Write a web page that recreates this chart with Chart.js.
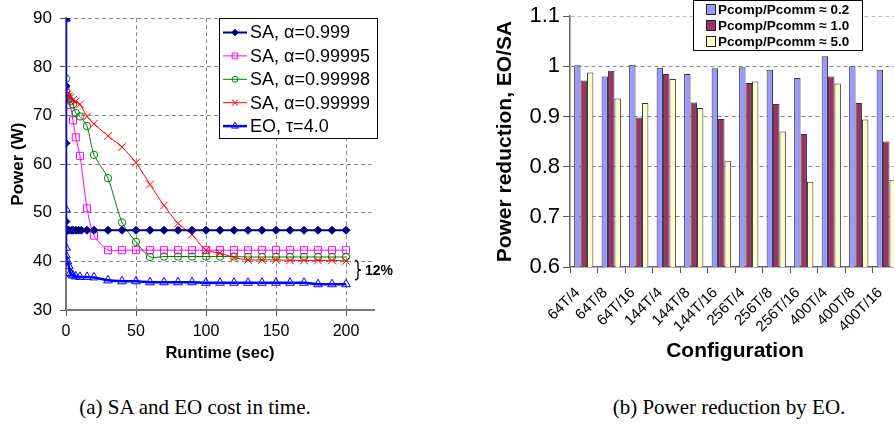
<!DOCTYPE html>
<html lang="en">
<head>
<meta charset="UTF-8">
<title>SA vs EO power</title>
<style>
  body { margin: 0; width: 894px; height: 429px; overflow: hidden; position: relative; background: #fff; }
  .panel { position: absolute; top: 0; }
  .panel canvas { display: block; }
  .caption { position: absolute; top: 395px; font-family: "Liberation Serif", serif; font-size: 21px; color: #000;
             white-space: nowrap; transform: translateX(-50%); }
</style>
<script src="https://cdn.jsdelivr.net/npm/chart.js"></script>
</head>
<body>
<div class="panel" style="left:0"><canvas id="timeChart" width="400" height="370"></canvas></div>
<div class="panel" style="left:470px"><canvas id="ratioChart" width="450" height="370"></canvas></div>
<div class="caption" style="left:195px">(a) SA and EO cost in time.</div>
<div class="caption" style="left:729px">(b) Power reduction by EO.</div>

<script>
const FONT = '"Liberation Sans", Arial, sans-serif';
Chart.defaults.font.family = FONT;
Chart.defaults.color = '#000';

// ---- (a) power vs runtime ----
const sa999Time  = [0, 0, 0, 0, 1, 2, 4, 5, 7, 9, 11, 15, 20, 30, 40, 50, 60, 70, 80, 90, 100, 110, 120, 130, 140, 150, 160, 170, 180, 190, 200];
const sa999Power = [90, 76.1, 64.3, 48.2, 46.4, 46.4, 46.4, 46.4, 46.4, 46.4, 46.4, 46.4, 46.4, 46.4, 46.4, 46.4, 46.4, 46.4, 46.4, 46.4, 46.4, 46.4, 46.4, 46.4, 46.4, 46.4, 46.4, 46.4, 46.4, 46.4, 46.4];

const sa99995Time  = [0, 0, 1, 3, 5, 7, 10, 15, 20, 30, 40, 50, 60, 70, 80, 90, 100, 110, 120, 130, 140, 150, 160, 170, 180, 190, 200];
const sa99995Power = [90, 74.7, 73.5, 72.2, 69.0, 65.5, 61.7, 50.9, 45.3, 42.3, 42.3, 42.3, 42.3, 42.3, 42.3, 42.3, 42.3, 42.3, 42.3, 42.3, 42.3, 42.3, 42.3, 42.3, 42.3, 42.3, 42.3];

const sa99998Time  = [0, 0, 1, 2, 3, 5, 7, 10, 15, 20, 30, 40, 50, 60, 70, 80, 90, 100, 110, 120, 130, 140, 150, 160, 170, 180, 190, 200];
const sa99998Power = [90, 77.6, 74.0, 73.4, 73.0, 72.3, 70.5, 69.8, 67.8, 61.9, 57.1, 48.0, 44.0, 40.9, 41.0, 41.0, 41.0, 41.0, 41.0, 41.0, 40.9, 40.9, 40.9, 40.9, 40.9, 40.9, 40.9, 40.9];

const sa99999Time  = [0, 0, 1, 2, 3, 5, 7, 10, 15, 20, 30, 40, 50, 60, 70, 80, 90, 100, 110, 120, 130, 140, 150, 160, 170, 180, 190, 200];
const sa99999Power = [90, 75.0, 74.3, 73.9, 73.6, 73.2, 72.9, 72.3, 69.8, 68.3, 65.8, 63.5, 60.3, 55.8, 51.5, 47.8, 45.5, 42.3, 41.7, 40.8, 40.3, 40.3, 40.3, 40.2, 40.2, 40.2, 40.2, 40.1];

const eoTime  = [0, 0, 0, 0, 1, 2, 3, 4, 5, 7, 10, 15, 20, 30, 40, 50, 60, 70, 80, 90, 100, 110, 120, 130, 140, 150, 160, 170, 180, 190, 200];
const eoPower = [90, 50.7, 42.8, 41.2, 40.0, 39.0, 37.6, 37.3, 37.1, 36.9, 36.8, 36.8, 36.7, 36.1, 35.9, 35.9, 35.7, 35.7, 35.7, 35.7, 35.6, 35.6, 35.6, 35.6, 35.6, 35.6, 35.6, 35.6, 35.3, 35.3, 35.3];

const timeTicks = [0, 50, 100, 150, 200];

// ---- (b) EO/SA ratio per configuration ----
const configs = ['64T/4', '64T/8', '64T/16', '144T/4', '144T/8', '144T/16', '256T/4', '256T/8', '256T/16', '400T/4', '400T/8', '400T/16'];
const ratioLow  = [1.002, 0.980, 1.003, 0.997, 0.985, 0.996, 0.998, 0.993, 0.977, 1.020, 1.000, 0.993];
const ratioMid  = [0.972, 0.991, 0.898, 0.985, 0.928, 0.895, 0.967, 0.925, 0.865, 0.980, 0.927, 0.850];
const ratioHigh = [0.988, 0.936, 0.927, 0.975, 0.917, 0.812, 0.970, 0.870, 0.770, 0.966, 0.894, 0.774];
const ratioLabels = ['Pcomp/Pcomm \u2248 0.2', 'Pcomp/Pcomm \u2248 1.0', 'Pcomp/Pcomm \u2248 5.0'];

function toPoints(t, p) {
    return t.map((x, i) => ({ x: x, y: p[i] }));
}

// draws one marker the same way Chart.js does, used by the hand-made legend
function drawMarker(ctx, style, x, y, r) {
    ctx.beginPath();
    if (style === 'rectRot') {
        ctx.moveTo(x - r, y); ctx.lineTo(x, y - r); ctx.lineTo(x + r, y); ctx.lineTo(x, y + r); ctx.closePath();
    } else if (style === 'rect') {
        const s = r * Math.SQRT1_2;
        ctx.rect(x - s, y - s, 2 * s, 2 * s);
    } else if (style === 'circle') {
        ctx.arc(x, y, r, 0, Math.PI * 2);
    } else if (style === 'crossRot') {
        const s = r * Math.SQRT1_2;
        ctx.moveTo(x - s, y - s); ctx.lineTo(x + s, y + s);
        ctx.moveTo(x + s, y - s); ctx.lineTo(x - s, y + s);
    } else if (style === 'triangle') {
        let a = 0;
        ctx.moveTo(x + Math.sin(a) * r, y - Math.cos(a) * r);
        a += Math.PI * 2 / 3; ctx.lineTo(x + Math.sin(a) * r, y - Math.cos(a) * r);
        a += Math.PI * 2 / 3; ctx.lineTo(x + Math.sin(a) * r, y - Math.cos(a) * r);
        ctx.closePath();
    }
}

function lineSet(label, t, p, color, style, radius, filled, width, order) {
    return {
        label: label,
        data: toPoints(t, p),
        borderColor: color,
        backgroundColor: filled ? color : 'rgba(0,0,0,0)',
        borderWidth: width,
        pointStyle: style,
        pointRadius: radius,
        pointBorderWidth: 1,
        pointBorderColor: color,
        pointBackgroundColor: filled ? color : 'rgba(0,0,0,0)',
        tension: 0.25,
        order: order
    };
}

// legend box inside the plot of (a)
const seriesLegend = {
    id: 'seriesLegend',
    afterDraw(chart) {
        const ctx = chart.ctx;
        const box = { x: 219, y: 18, w: 158, h: 120 };
        ctx.save();
        ctx.fillStyle = '#fff';
        ctx.fillRect(box.x, box.y, box.w, box.h);
        ctx.strokeStyle = '#000';
        ctx.lineWidth = 1;
        ctx.strokeRect(box.x + 0.5, box.y + 0.5, box.w, box.h);
        const sets = chart.data.datasets.slice().sort((a, b) => a.legendIndex - b.legendIndex);
        sets.forEach((ds, i) => {
            const y = 32.5 + i * 23.4;
            ctx.strokeStyle = ds.borderColor;
            ctx.lineWidth = Math.min(ds.borderWidth, 2.5);
            ctx.beginPath(); ctx.moveTo(223, y); ctx.lineTo(247, y); ctx.stroke();
            ctx.lineWidth = 1;
            ctx.fillStyle = ds.pointBackgroundColor;
            drawMarker(ctx, ds.pointStyle, 235, y, ds.pointRadius * 0.8);
            if (ds.pointStyle !== 'crossRot') ctx.fill();
            ctx.stroke();
            ctx.fillStyle = '#000';
            ctx.font = '18px ' + FONT;
            ctx.textBaseline = 'middle';
            ctx.fillText(ds.label, 250, y + 1);
        });
        ctx.restore();
    }
};

// "12%" brace to the right of the last points
const gapNote = {
    id: 'gapNote',
    afterDraw(chart) {
        const { ctx, scales } = chart;
        const bx = scales.x.getPixelForValue(200) + 9;
        const top = scales.y.getPixelForValue(40.2);
        const bottom = scales.y.getPixelForValue(36.2);
        const mid = (top + bottom) / 2;
        ctx.save();
        ctx.strokeStyle = '#000';
        ctx.lineWidth = 1.3;
        ctx.beginPath();
        ctx.moveTo(bx, top);
        ctx.quadraticCurveTo(bx + 3, top, bx + 3, top + 3);
        ctx.lineTo(bx + 3, mid - 2);
        ctx.quadraticCurveTo(bx + 3, mid, bx + 6, mid);
        ctx.quadraticCurveTo(bx + 3, mid, bx + 3, mid + 2);
        ctx.lineTo(bx + 3, bottom - 3);
        ctx.quadraticCurveTo(bx + 3, bottom, bx, bottom);
        ctx.stroke();
        ctx.fillStyle = '#000';
        ctx.font = 'bold 14px ' + FONT;
        ctx.textBaseline = 'middle';
        ctx.fillText('12%', bx + 10, mid + 1);
        ctx.restore();
    }
};

const timeSets = [
    lineSet('SA, \u03b1=0.999', sa999Time, sa999Power, '#000080', 'rectRot', 4, true, 2, 1),
    lineSet('SA, \u03b1=0.99995', sa99995Time, sa99995Power, '#ff00ff', 'rect', 5, false, 1, 4),
    lineSet('SA, \u03b1=0.99998', sa99998Time, sa99998Power, '#008000', 'circle', 3.7, false, 1, 3),
    lineSet('SA, \u03b1=0.99999', sa99999Time, sa99999Power, '#ff0000', 'crossRot', 5.5, false, 1, 2),
    lineSet('EO, \u03c4=4.0', eoTime, eoPower, '#0000ff', 'triangle', 5, false, 2.5, 0)
];
timeSets.forEach((ds, i) => { ds.legendIndex = i; });

new Chart(document.getElementById('timeChart'), {
    type: 'line',
    data: { datasets: timeSets },
    options: {
        responsive: false,
        animation: false,
        layout: { padding: { left: 0, right: 26, top: 10, bottom: 0 } },
        plugins: { legend: { display: false }, tooltip: { enabled: false } },
        scales: {
            x: {
                type: 'linear',
                min: 0,
                max: 220,
                afterBuildTicks: scale => { scale.ticks = timeTicks.map(v => ({ value: v })); },
                afterFit: scale => { scale.height = 60; },
                ticks: { font: { size: 16 }, padding: 6, maxRotation: 0 },
                grid: { color: '#8a8a8a', tickColor: '#555', tickLength: 6 },
                border: { color: '#777', width: 2, dash: [4, 3] },
                title: { display: true, text: 'Runtime (sec)', font: { size: 16.5, weight: 'bold' }, padding: { top: 0, bottom: 7 } }
            },
            y: {
                min: 30,
                max: 90,
                ticks: { stepSize: 10, font: { size: 17 }, padding: 8 },
                afterFit: scale => { scale.width = 66; },
                grid: { color: '#8a8a8a', tickColor: '#555', tickLength: 6 },
                border: { color: '#777', width: 2, dash: [4, 3] },
                title: { display: true, text: 'Power (W)', font: { size: 17, weight: 'bold' }, padding: { top: 8, bottom: 0 } }
            }
        }
    },
    plugins: [seriesLegend, gapNote]
});

// legend box for (b)
const ratioLegend = {
    id: 'ratioLegend',
    afterDraw(chart) {
        const ctx = chart.ctx;
        ctx.save();
        ctx.fillStyle = '#fff';
        ctx.fillRect(223, 0, 169, 50);
        ctx.strokeStyle = '#000';
        ctx.lineWidth = 1;
        ctx.strokeRect(223.5, 0.5, 169, 50);
        chart.data.datasets.forEach((ds, i) => {
            const y = 10 + i * 16;
            ctx.fillStyle = ds.backgroundColor;
            ctx.fillRect(236.5, y - 5.5, 9, 10);
            ctx.strokeStyle = '#222';
            ctx.strokeRect(236.5, y - 5.5, 9, 10);
            ctx.fillStyle = '#000';
            ctx.font = 'bold 13.5px ' + FONT;
            ctx.textBaseline = 'middle';
            ctx.fillText(ds.label, 248, y + 0.5);
        });
        ctx.restore();
    }
};

function barSet(label, values, color) {
    return {
        label: label,
        data: values,
        backgroundColor: color,
        borderColor: '#333',
        borderWidth: 1,
        categoryPercentage: 0.7,
        barPercentage: 1.0
    };
}

new Chart(document.getElementById('ratioChart'), {
    type: 'bar',
    data: {
        labels: configs,
        datasets: [
            barSet(ratioLabels[0], ratioLow, '#9999ff'),
            barSet(ratioLabels[1], ratioMid, '#993366'),
            barSet(ratioLabels[2], ratioHigh, '#ffffcc')
        ]
    },
    options: {
        responsive: false,
        animation: false,
        layout: { padding: { left: 0, right: 20, top: 14, bottom: 0 } },
        plugins: { legend: { display: false }, tooltip: { enabled: false } },
        scales: {
            x: {
                afterFit: scale => { scale.height = 103; },
                ticks: { font: { size: 15 }, minRotation: 45, maxRotation: 45, autoSkip: false, padding: 11, labelOffset: -6 },
                grid: { offset: true, drawOnChartArea: false, tickColor: '#555', tickLength: 6 },
                border: { color: '#666', width: 1.5 },
                title: { display: true, text: 'Configuration', font: { size: 21, weight: 'bold' }, padding: { top: 0, bottom: 6 } }
            },
            y: {
                min: 0.6,
                max: 1.1,
                afterFit: scale => { scale.width = 100; },
                ticks: { stepSize: 0.1, font: { size: 22 }, padding: 3, callback: v => String(Math.round(v * 10) / 10) },
                grid: {
                    color: c => c.tick.value < 0.65 ? 'rgba(0,0,0,0)' : (c.tick.value > 1.05 ? '#bbb' : '#888'),
                    tickColor: '#555',
                    tickLength: 7
                },
                border: { color: '#666', width: 1.5, dash: [4, 3] },
                title: { display: true, text: 'Power reduction, EO/SA', font: { size: 21, weight: 'bold' }, padding: { top: 23, bottom: 0 } }
            }
        }
    },
    plugins: [ratioLegend]
});
</script>
</body>
</html>
